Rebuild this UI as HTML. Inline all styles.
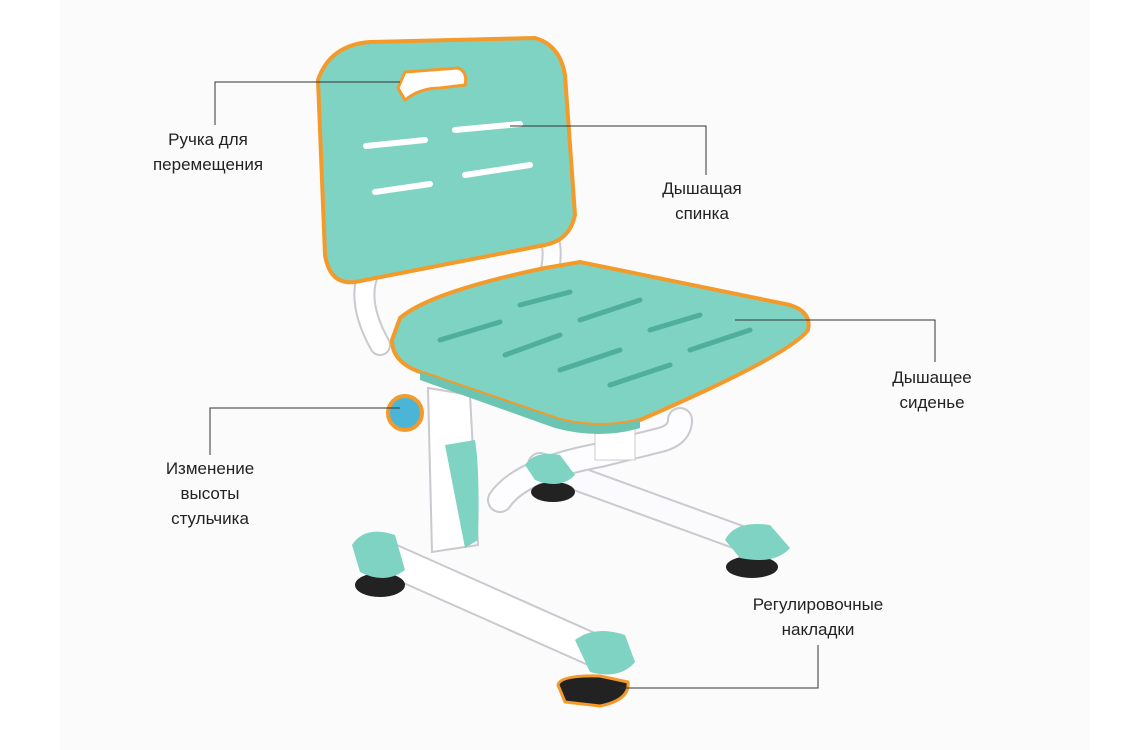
<!DOCTYPE html>
<html><head><meta charset="utf-8"><style>
html,body{margin:0;padding:0;background:#fff;}
.wrap{position:relative;width:1125px;height:750px;overflow:hidden;background:#fff;}
.t{position:absolute;font-family:"Liberation Sans",sans-serif;font-size:17px;color:#222;text-align:center;line-height:25px;transform:translateX(-50%);white-space:nowrap;}
</style></head><body><div class="wrap">
<svg width="1125" height="750" style="position:absolute;left:0;top:0">
<rect x="60" y="0" width="1030" height="750" fill="#fbfbfb"/>
<!-- rear base -->
<path d="M540 465 L760 545" stroke="#c9c9cf" stroke-width="26" stroke-linecap="round"/>
<path d="M540 465 L760 545" stroke="#fbfbfd" stroke-width="22" stroke-linecap="round"/>
<path d="M500 500 Q520 470 600 455 L660 440 Q680 435 680 420" fill="none" stroke="#c9c9cf" stroke-width="26" stroke-linecap="round"/>
<path d="M500 500 Q520 470 600 455 L660 440 Q680 435 680 420" fill="none" stroke="#fdfdff" stroke-width="22" stroke-linecap="round"/>
<ellipse cx="553" cy="492" rx="22" ry="10" fill="#222"/>
<path d="M525 465 Q535 450 560 455 L575 475 Q560 490 535 480 Z" fill="#7fd3c3"/>
<ellipse cx="752" cy="567" rx="26" ry="11" fill="#222"/>
<path d="M725 540 Q735 520 770 525 L790 548 Q775 565 740 558 Z" fill="#7fd3c3"/>
<!-- column under seat -->
<rect x="595" y="400" width="40" height="60" fill="#fff" stroke="#ccc"/>
<!-- back supports -->
<path d="M370 270 Q355 300 380 345" fill="none" stroke="#c9c9cf" stroke-width="22" stroke-linecap="round"/>
<path d="M370 270 Q355 300 380 345" fill="none" stroke="#fff" stroke-width="18" stroke-linecap="round"/>
<path d="M545 225 Q555 245 550 270" fill="none" stroke="#c9c9cf" stroke-width="20" stroke-linecap="round"/>
<path d="M545 225 Q555 245 550 270" fill="none" stroke="#fff" stroke-width="16" stroke-linecap="round"/>
<!-- backrest -->
<path d="M318 80 Q330 45 370 42 L535 38 Q560 45 565 75 L575 215 Q570 240 545 245 L355 282 Q330 285 325 255 Z" fill="#7fd3c3" stroke="#f39a2b" stroke-width="4"/>
<path d="M398 88 L405 72 L458 68 Q468 72 465 85 L440 88 Q420 88 405 100 Z" fill="#fff" stroke="#f39a2b" stroke-width="3"/>
<g stroke="#fff" stroke-width="6" stroke-linecap="round">
<line x1="366" y1="146" x2="425" y2="140"/><line x1="455" y1="130" x2="520" y2="124"/>
<line x1="375" y1="192" x2="430" y2="184"/><line x1="465" y1="175" x2="530" y2="165"/></g>
<!-- column -->
<path d="M428 388 L470 395 L478 545 L432 552 Z" fill="#fff" stroke="#c9c9cf" stroke-width="2"/>
<path d="M445 445 L475 440 Q480 470 478 540 L465 548 Z" fill="#7fd3c3"/>
<!-- front base -->
<path d="M380 555 L605 655" stroke="#c9c9cf" stroke-width="34" stroke-linecap="round"/>
<path d="M380 555 L605 655" stroke="#fff" stroke-width="30" stroke-linecap="round"/>
<ellipse cx="380" cy="585" rx="25" ry="12" fill="#222"/>
<path d="M352 545 Q365 525 395 535 L405 570 Q385 585 360 572 Z" fill="#7fd3c3"/>
<path d="M558 685 Q560 675 600 676 L628 682 Q630 700 600 706 L565 702 Z" fill="#222" stroke="#f39a2b" stroke-width="3"/>
<path d="M575 640 Q595 625 625 635 L635 662 Q620 680 590 672 Z" fill="#7fd3c3"/>
<!-- seat -->
<path d="M400 318 Q430 292 545 268 L580 262 L790 305 Q812 312 808 330 Q790 355 640 420 Q600 430 560 420 L420 372 Q392 362 392 340 Z" fill="#7fd3c3" stroke="#f39a2b" stroke-width="4"/>
<path d="M420 372 L560 420 Q600 430 640 420 L640 428 Q600 440 555 428 L420 380 Z" fill="#6cc4b3"/>
<g stroke="#4fae9c" stroke-width="5" stroke-linecap="round">
<line x1="520" y1="305" x2="570" y2="292"/><line x1="580" y1="320" x2="640" y2="300"/><line x1="650" y1="330" x2="700" y2="315"/>
<line x1="440" y1="340" x2="500" y2="322"/><line x1="505" y1="355" x2="560" y2="335"/><line x1="560" y1="370" x2="620" y2="350"/>
<line x1="610" y1="385" x2="670" y2="365"/><line x1="690" y1="350" x2="750" y2="330"/></g>
<!-- knob -->
<circle cx="405" cy="413" r="17" fill="#4ab5d6" stroke="#f39a2b" stroke-width="4"/>
<!-- leader lines -->
<g stroke="#333" stroke-width="1" fill="none">
<polyline points="215,125 215,82 400,82"/>
<polyline points="510,126 706,126 706,175"/>
<polyline points="735,320 935,320 935,362"/>
<polyline points="210,455 210,408 400,408"/>
<polyline points="620,688 818,688 818,645"/>
</g>
</svg>
<div class="t" style="left:208px;top:127px">Ручка для<br>перемещения</div>
<div class="t" style="left:702px;top:176px">Дышащая<br>спинка</div>
<div class="t" style="left:932px;top:365px">Дышащее<br>сиденье</div>
<div class="t" style="left:210px;top:456px">Изменение<br>высоты<br>стульчика</div>
<div class="t" style="left:818px;top:592px">Регулировочные<br>накладки</div>
</div></body></html>
